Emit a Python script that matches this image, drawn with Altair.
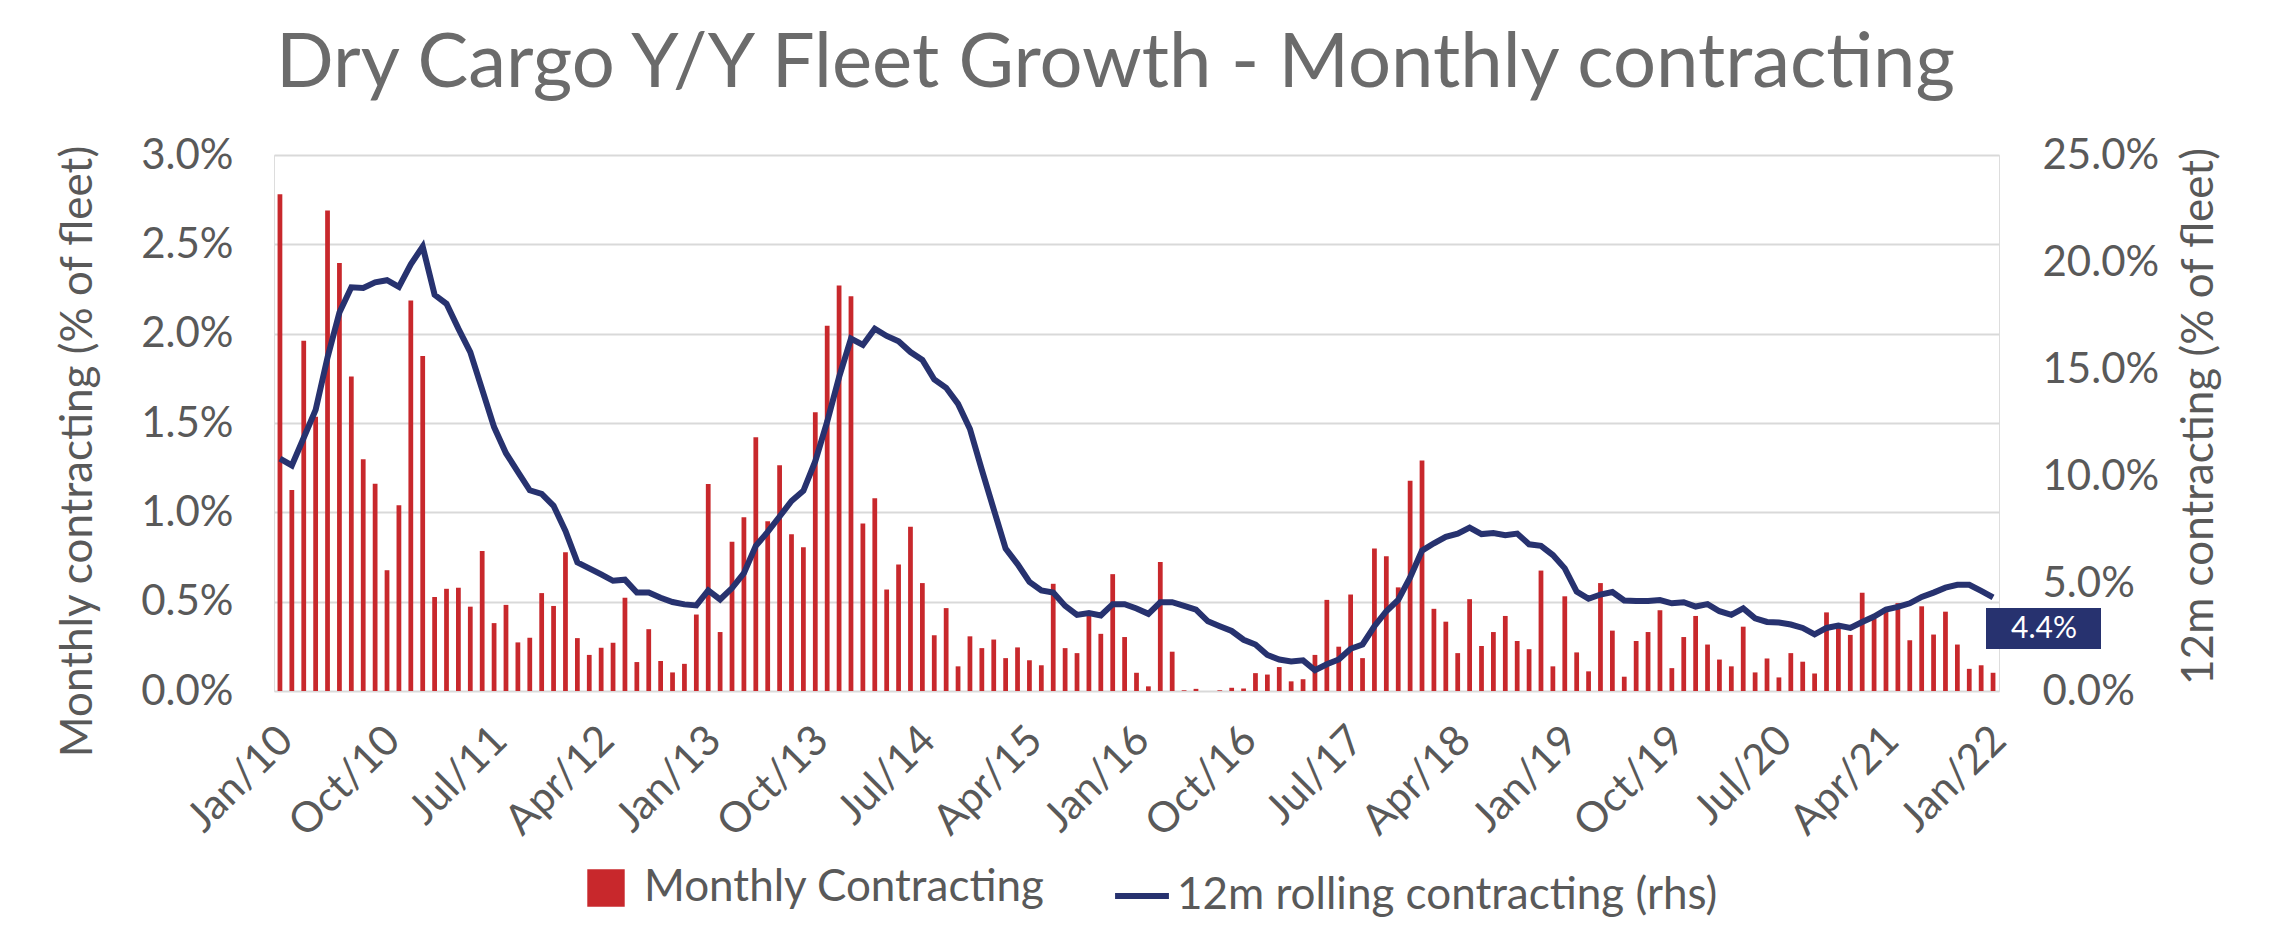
import altair as alt
import pandas as pd

# ---------------- data ----------------
MONTH_NAMES = ["Jan", "Feb", "Mar", "Apr", "May", "Jun", "Jul", "Aug", "Sep", "Oct", "Nov", "Dec"]
months = [f"{MONTH_NAMES[i % 12]}/{10 + i // 12:02d}" for i in range(145)]  # Jan/10 .. Jan/22
tick_labels = months[::9]

# Monthly contracting, % of fleet
monthly = [
    2.78, 1.125, 1.96, 1.535, 2.69, 2.395, 1.76, 1.297, 1.16, 0.676,
    1.04, 2.185, 1.875, 0.526, 0.572, 0.578, 0.472, 0.784, 0.38, 0.482,
    0.272, 0.298, 0.548, 0.476, 0.776, 0.296, 0.202, 0.242, 0.27, 0.522,
    0.162, 0.346, 0.168, 0.104, 0.152, 0.428, 1.159, 0.33, 0.836, 0.972,
    1.42, 0.95, 1.263, 0.878, 0.804, 1.56, 2.045, 2.27, 2.21, 0.938,
    1.079, 0.568, 0.708, 0.92, 0.604, 0.312, 0.464, 0.138, 0.306, 0.24,
    0.288, 0.184, 0.244, 0.172, 0.144, 0.6, 0.24, 0.212, 0.426, 0.32,
    0.654, 0.302, 0.102, 0.026, 0.722, 0.22, 0.004, 0.012, 0.0, 0.004,
    0.018, 0.014, 0.1, 0.092, 0.134, 0.054, 0.066, 0.202, 0.51, 0.248,
    0.54, 0.184, 0.798, 0.754, 0.58, 1.177, 1.29, 0.46, 0.388, 0.212,
    0.514, 0.252, 0.33, 0.42, 0.28, 0.234, 0.674, 0.138, 0.53, 0.216,
    0.11, 0.604, 0.338, 0.08, 0.28, 0.33, 0.452, 0.128, 0.302, 0.42,
    0.26, 0.176, 0.138, 0.36, 0.104, 0.182, 0.076, 0.212, 0.164, 0.098,
    0.44, 0.37, 0.314, 0.55, 0.406, 0.446, 0.492, 0.284, 0.474, 0.316,
    0.444, 0.26, 0.124, 0.144, 0.102,
]

# 12m rolling contracting, % of fleet (rhs)
rolling = [
    10.84, 10.52, 11.81, 13.11, 15.56, 17.65, 18.83, 18.8, 19.06, 19.16,
    18.85, 19.9, 20.73, 18.48, 18.06, 16.9, 15.81, 14.06, 12.31, 11.09,
    10.22, 9.36, 9.19, 8.64, 7.47, 6.0, 5.72, 5.44, 5.14, 5.19,
    4.59, 4.59, 4.35, 4.15, 4.04, 3.99, 4.69, 4.27, 4.8, 5.5,
    6.77, 7.42, 8.14, 8.86, 9.34, 10.72, 12.56, 14.64, 16.44, 16.14,
    16.9, 16.56, 16.31, 15.81, 15.44, 14.53, 14.14, 13.39, 12.22, 10.31,
    8.47, 6.64, 5.92, 5.09, 4.69, 4.59, 3.97, 3.55, 3.64, 3.52,
    4.05, 4.05, 3.85, 3.6, 4.14, 4.14, 3.97, 3.8, 3.25, 3.02,
    2.8, 2.39, 2.17, 1.68, 1.47, 1.38, 1.43, 0.97, 1.25, 1.47,
    1.97, 2.17, 3.02, 3.72, 4.25, 5.3, 6.55, 6.89, 7.19, 7.34,
    7.62, 7.32, 7.37, 7.27, 7.34, 6.84, 6.77, 6.34, 5.72, 4.64,
    4.3, 4.5, 4.62, 4.22, 4.2, 4.2, 4.24, 4.09, 4.14, 3.94,
    4.05, 3.72, 3.55, 3.85, 3.39, 3.22, 3.19, 3.1, 2.94, 2.64,
    2.94, 3.05, 2.94, 3.22, 3.47, 3.8, 3.92, 4.09, 4.39, 4.59,
    4.82, 4.95, 4.95, 4.67, 4.37,
]

series_bar = "Monthly Contracting"
series_line = "12m rolling contracting (rhs)"

# ---------------- style ----------------
FONT = "Lato"
RED = "#C8282C"
NAVY = "#27326F"
GRAY = "#595959"
TITLE_GRAY = "#6b6b6b"
GRID = "#d9d9d9"

df = pd.DataFrame({
    "month": months,
    "monthly": [v / 100 for v in monthly],
    "rolling": [v / 100 for v in rolling],
    "s1": series_bar,
    "s2": series_line,
})
last_df = pd.DataFrame({"label": [f"{rolling[-1]:.1f}%"]})

x_enc = alt.X(
    "month:O",
    sort=months,
    scale=alt.Scale(paddingInner=0.6, paddingOuter=0.3),
    axis=alt.Axis(
        values=tick_labels, labelAngle=-45, title=None, domain=False, ticks=False,
        labelFontSize=42, labelFont=FONT, labelColor=GRAY, labelPadding=36,
        translate=-7.5,
    ),
)

bars = alt.Chart(df).mark_bar().encode(
    x=x_enc,
    y=alt.Y(
        "monthly:Q",
        scale=alt.Scale(domain=[0, 0.03], nice=False),
        axis=alt.Axis(
            format=".1%", values=[0, 0.005, 0.01, 0.015, 0.02, 0.025, 0.03],
            grid=True, gridColor=GRID, gridWidth=2, domain=False, ticks=False,
            labelFontSize=42, labelFont=FONT, labelColor=GRAY, labelPadding=41,
            title="Monthly contracting (% of fleet)", titleFontSize=44, titleFont=FONT,
            titleFontWeight="normal", titleColor=GRAY, titlePadding=40, titleY=296,
        ),
    ),
    fill=alt.Fill(
        "s1:N",
        scale=alt.Scale(domain=[series_bar], range=[RED]),
        legend=alt.Legend(
            orient="none", legendX=310, legendY=711, title=None, symbolType="square",
            symbolSize=1400, symbolStrokeWidth=0, labelFontSize=44, labelFont=FONT,
            labelColor=GRAY, labelOffset=16, padding=0, labelLimit=900,
        ),
    ),
)

line = alt.Chart(df).mark_line(strokeWidth=6).encode(
    x=x_enc,
    y=alt.Y(
        "rolling:Q",
        scale=alt.Scale(domain=[0, 0.25], nice=False),
        axis=alt.Axis(
            orient="right", format=".1%", values=[0, 0.05, 0.1, 0.15, 0.2, 0.25],
            grid=False, domain=False, ticks=False,
            labelFontSize=42, labelFont=FONT, labelColor=GRAY, labelPadding=43,
            title="12m contracting (% of fleet)", titleFontSize=44, titleFont=FONT,
            titleFontWeight="normal", titleColor=GRAY, titlePadding=19,
            titleAngle=270, titleBaseline="top", titleY=261,
        ),
    ),
    stroke=alt.Stroke(
        "s2:N",
        scale=alt.Scale(domain=[series_line], range=[NAVY]),
        legend=alt.Legend(
            orient="none", legendX=838, legendY=711, title=None, symbolType="stroke",
            symbolSize=2900, symbolStrokeWidth=6, labelFontSize=44, labelFont=FONT,
            labelColor=GRAY, labelOffset=5, padding=0, labelLimit=900,
        ),
    ),
)

box = alt.Chart(last_df).mark_rect(color=NAVY).encode(
    x=alt.value(1712), x2=alt.value(1827), y=alt.value(453), y2=alt.value(494),
)
box_text = alt.Chart(last_df).mark_text(
    color="white", fontSize=30, font=FONT, align="center", baseline="middle",
).encode(x=alt.value(1770), y=alt.value(474), text="label:N")

chart = alt.layer(bars, line, box, box_text).resolve_scale(
    y="independent", fill="independent", stroke="independent"
).properties(
    width=1725,
    height=536,
    autosize=alt.AutoSizeParams(type="none"),
    padding={"left": 266, "top": 147, "right": 270, "bottom": 228},
    title=alt.TitleParams(
        text="Dry Cargo Y/Y Fleet Growth - Monthly contracting",
        fontSize=76, font=FONT, fontWeight="normal", color=TITLE_GRAY,
        anchor="middle", dx=-21, offset=-29, baseline="alphabetic",
    ),
).configure_view(stroke=None).configure(background="white")

chart.save("out.html", embed_options={"renderer": "svg", "actions": False})
